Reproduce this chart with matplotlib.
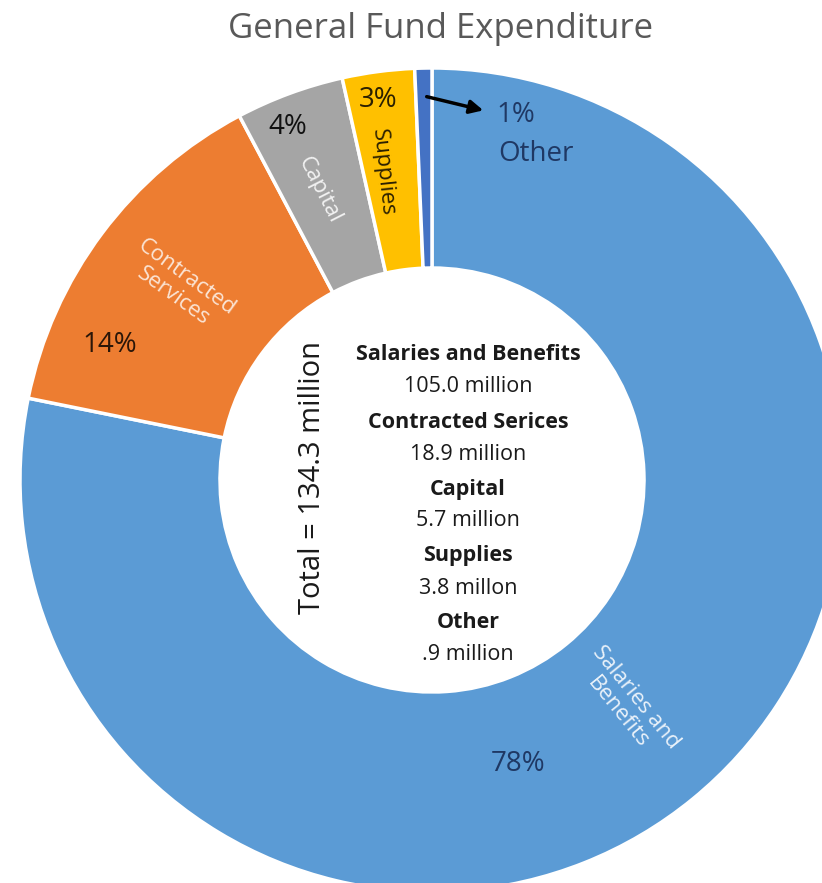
import matplotlib.pyplot as plt

plt.rcParams['font.family'] = ['Open Sans', 'DejaVu Sans']

categories = ['Salaries and Benefits', 'Contracted Services', 'Capital', 'Supplies', 'Other']
amounts = [105.0, 18.9, 5.7, 3.8, 0.9]
pct_labels = ['78%', '14%', '4%', '3%', '1%']
center_names = ['Salaries and Benefits', 'Contracted Serices', 'Capital', 'Supplies', 'Other']
center_values = ['105.0 million', '18.9 million', '5.7 million', '3.8 millon', '.9 million']
total_label = 'Total = 134.3 million'
colors = ['#5B9BD5', '#ED7D31', '#A5A5A5', '#FFC000', '#4472C4']

W, H = 822, 883
fig = plt.figure(figsize=(W / 100, H / 100), dpi=100)
ax = fig.add_axes([0, 0, 1, 1])

def Y(y):
    # image row -> data y
    return H - y

ax.pie(amounts, colors=colors, radius=412, center=(432, Y(480)),
       startangle=90, counterclock=False,
       wedgeprops=dict(width=200, edgecolor='white', linewidth=2.5))
ax.set_xlim(0, W)
ax.set_ylim(0, H)
ax.set_aspect('equal')
ax.axis('off')

fig.text(441 / W, 1 - 29 / H, 'General Fund Expenditure', ha='center', va='center',
         fontsize=25, color='#595959')

# slice labels
ax.text(518, Y(764), pct_labels[0], fontsize=20, color='#1F3864', ha='center', va='center')
ax.text(627, Y(705), 'Salaries and\nBenefits', fontsize=16, color='#EAF2FA',
        rotation=-51, ha='center', va='center', linespacing=1.15)
ax.text(180, Y(287), 'Contracted\nServices', fontsize=16, color='#FBE5D6',
        rotation=-36, ha='center', va='center', linespacing=1.15)
ax.text(110, Y(345), pct_labels[1], fontsize=20, color='#2B1608', ha='center', va='center')
ax.text(288, Y(127), pct_labels[2], fontsize=20, color='#111111', ha='center', va='center')
ax.text(319, Y(190), 'Capital', fontsize=16, color='#F2F2F2',
        rotation=-63, ha='center', va='center')
ax.text(378, Y(100), pct_labels[3], fontsize=20, color='#2B2000', ha='center', va='center')
ax.text(383, Y(172), 'Supplies', fontsize=16, color='#2B2000',
        rotation=-84, ha='center', va='center')
ax.text(516, Y(115), pct_labels[4], fontsize=20, color='#1F3864', ha='center', va='center')
ax.text(536, Y(154), categories[4], fontsize=20, color='#1F3864', ha='center', va='center')
ax.annotate('', xy=(486, Y(111)), xytext=(424, Y(96)),
            arrowprops=dict(arrowstyle='-|>', color='black', lw=2.5, mutation_scale=20))

# centre breakdown
y0 = 355
for i in range(len(center_names)):
    ax.text(468, Y(y0 + i * 67), center_names[i], fontsize=15.5, fontweight='bold',
            color='#1A1A1A', ha='center', va='center')
    ax.text(468, Y(y0 + i * 67 + 32), center_values[i], fontsize=15.5,
            color='#1A1A1A', ha='center', va='center')
ax.text(312, Y(478), total_label, fontsize=21, color='#1A1A1A', rotation=90,
        ha='center', va='center')

fig.savefig('out.png', dpi=100)
